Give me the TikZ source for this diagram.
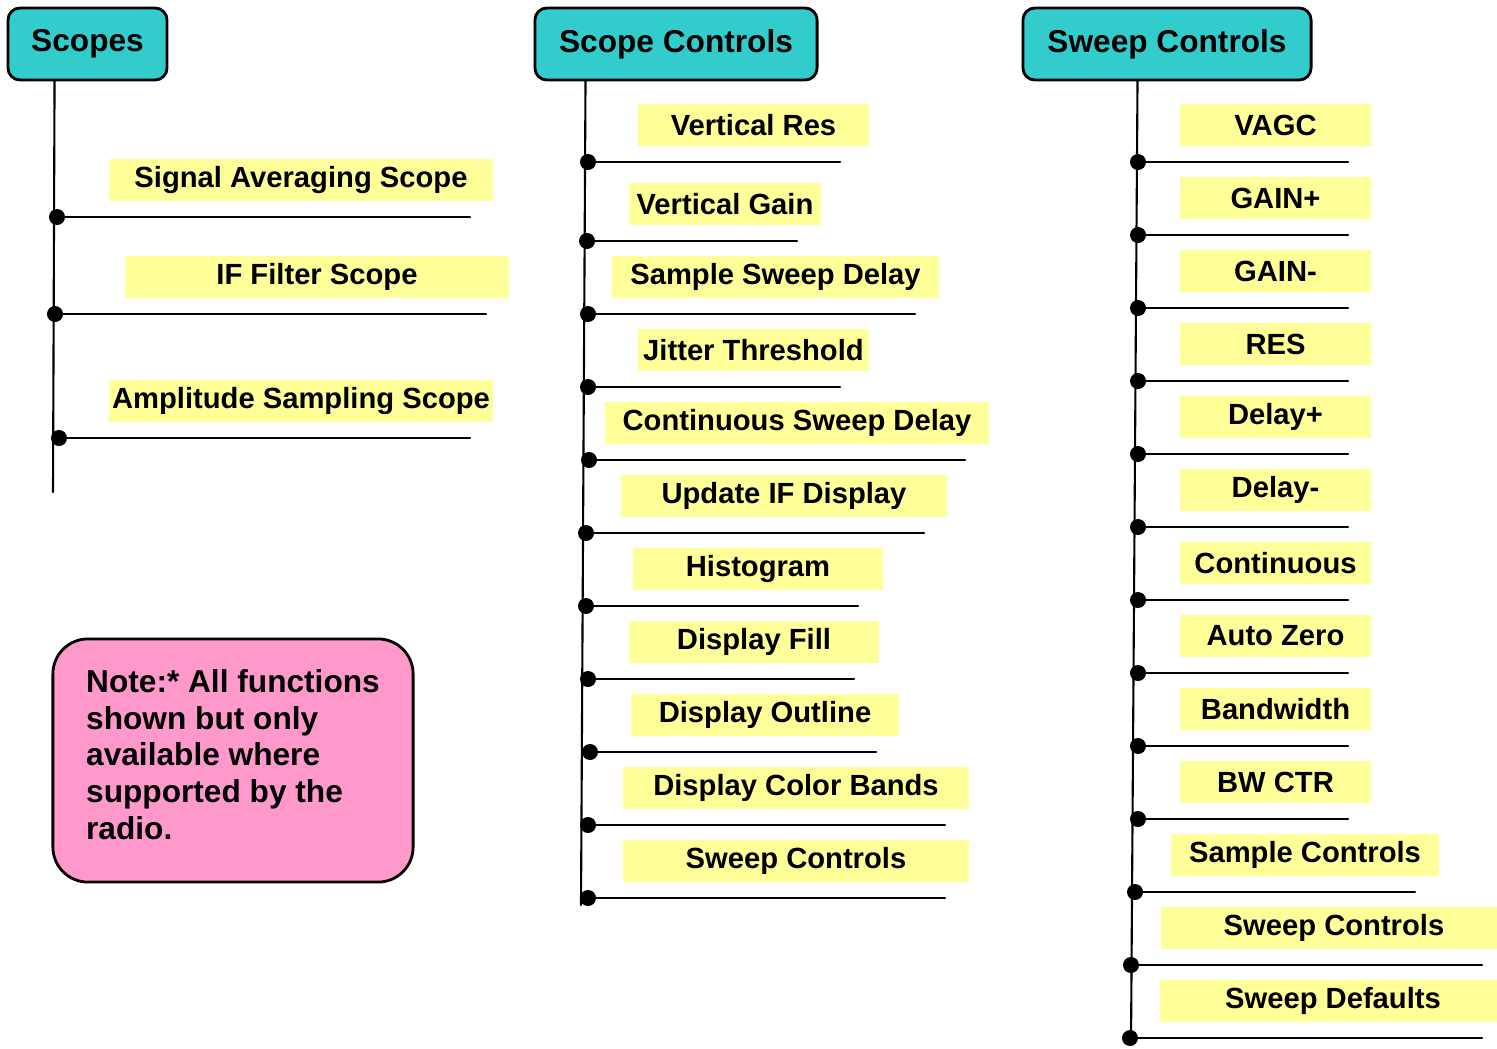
\documentclass[tikz,border=0pt]{standalone}
\usepackage{fontspec}
\setmainfont{Liberation Sans}
\usetikzlibrary{calc}
\definecolor{hdrcyan}{HTML}{33CCCC}
\definecolor{lblyellow}{HTML}{FFFF99}
\definecolor{notepink}{HTML}{FF99CC}
\begin{document}
\begin{tikzpicture}[x=0.01cm, y=-0.01cm, line join=round, line cap=round,
	hdr/.style={draw, line width=0.8pt, fill=hdrcyan, rounded corners=0.12cm, minimum height=0.72cm, font=\fontsize{9}{10}\selectfont\bfseries},
	lbl/.style={fill=lblyellow, minimum height=0.42cm, inner sep=0pt, font=\fontsize{8.3}{10}\selectfont\bfseries},
	twig/.style={line width=0.6pt}]
	\useasboundingbox (0,0) rectangle (1497,1048);
	% Scopes
	\node[hdr, minimum width=1.59cm] (hdrA) at (87.5,44) {Scopes};
	\coordinate (endA) at (53,492);
	\draw[twig] ($(hdrA.south west)+(48,0)$) -- (endA);
	\foreach \n/\dx/\dy/\cx/\w/\ex/\txt in {1/57/217/301/3.84/470/Signal Averaging Scope,
		2/55/314/317/3.84/486/IF Filter Scope, 3/59/438/301/3.84/470/Amplitude Sampling Scope}{
		\node[lbl, minimum width=\w cm] (labA\n) at (\cx,\dy-37) {\txt};
		\coordinate (dotA\n) at (\dx,\dy);
		\coordinate (tipA\n) at (\ex,\dy);
		\draw[twig] (dotA\n) -- (tipA\n);
		\fill (dotA\n) circle[radius=0.08cm];
	}
	% Scope Controls
	\node[hdr, minimum width=2.82cm] (hdrB) at (676,44) {Scope Controls};
	\coordinate (endB) at (581,905);
	\draw[twig] ($(hdrB.south west)+(52,0)$) -- (endB);
	\foreach \n/\dx/\dy/\cx/\w/\ex/\txt in {1/588/162/753.5/2.31/840/Vertical Res,
		2/587/241/725/1.92/797/Vertical Gain, 3/588/314/775.5/3.27/915/Sample Sweep Delay,
		4/588/387/753.5/2.31/840/Jitter Threshold, 5/589/460/797/3.84/965/Continuous Sweep Delay,
		6/586/533/784/3.26/924/Update IF Display, 7/586/606/758/2.50/858/Histogram,
		8/588/679/754/2.50/854/Display Fill, 9/590/752/765/2.68/876/Display Outline,
		10/588/825/796/3.46/945/Display Color Bands, 11/588/898/796/3.46/945/Sweep Controls}{
		\node[lbl, minimum width=\w cm] (labB\n) at (\cx,\dy-37) {\txt};
		\coordinate (dotB\n) at (\dx,\dy);
		\coordinate (tipB\n) at (\ex,\dy);
		\draw[twig] (dotB\n) -- (tipB\n);
		\fill (dotB\n) circle[radius=0.08cm];
	}
	% Sweep Controls
	\node[hdr, minimum width=2.88cm] (hdrC) at (1167,44) {Sweep Controls};
	\coordinate (endC) at (1131,1045);
	\draw[twig] ($(hdrC.south west)+(116,0)$) -- (endC);
	\foreach \n/\dx/\dy/\cx/\w/\ex/\txt in {1/1138/162/1275.5/1.91/1348/VAGC,
		2/1138/235/1275.5/1.91/1348/GAIN+, 3/1138/308/1275.5/1.91/1348/GAIN-,
		4/1138/381/1275.5/1.91/1348/RES, 5/1138/454/1275.5/1.91/1348/Delay+,
		6/1138/527/1275.5/1.91/1348/Delay-, 7/1138/600/1275.5/1.91/1348/Continuous,
		8/1138/673/1275.5/1.91/1348/Auto Zero, 9/1138/746/1275.5/1.91/1348/Bandwidth,
		10/1138/819/1275.5/1.91/1348/BW CTR, 11/1135/892/1305/2.68/1415/Sample Controls,
		12/1131/965/1334/3.46/1482/Sweep Controls, 13/1130/1038/1333/3.46/1482/Sweep Defaults}{
		\node[lbl, minimum width=\w cm] (labC\n) at (\cx,\dy-37) {\txt};
		\coordinate (dotC\n) at (\dx,\dy);
		\coordinate (tipC\n) at (\ex,\dy);
		\draw[twig] (dotC\n) -- (tipC\n);
		\fill (dotC\n) circle[radius=0.08cm];
	}
	% note
	\node[draw, line width=0.8pt, fill=notepink, rounded corners=0.35cm, minimum width=3.6cm, minimum height=2.43cm,
		align=left, font=\fontsize{9}{10.5}\selectfont\bfseries] (note) at (233,760.5)
		{Note:* All functions\\shown but only\\available where\\supported by the\\radio.\rule[-0.12cm]{0pt}{0pt}};
\end{tikzpicture}
\end{document}
